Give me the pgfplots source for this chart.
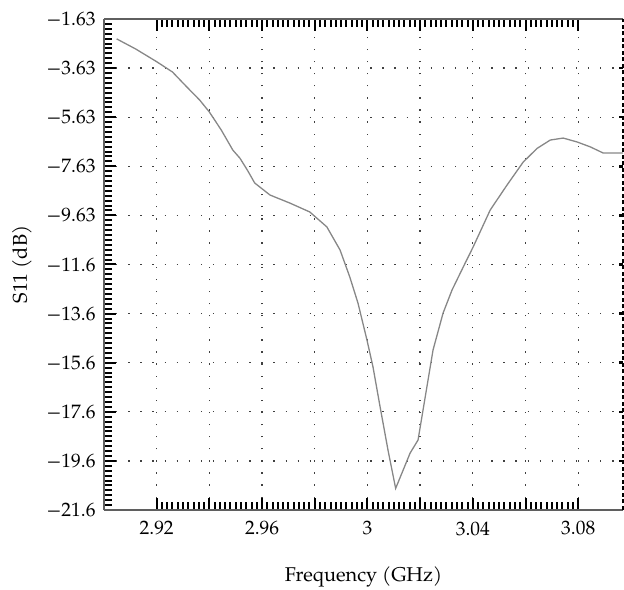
\documentclass[border=0pt]{standalone}
\usepackage{fontspec}
\setmainfont{texgyrepagella-regular.otf}
\usepackage{pgfplots}
\pgfplotsset{compat=1.18}
\definecolor{curvegray}{RGB}{135,135,135}
\definecolor{axgray}{RGB}{95,95,95}
\begin{document}
\begin{tikzpicture}
\path[use as bounding box] (0,0) rectangle (624bp,590bp);
\begin{axis}[
  at={(104bp,80bp)}, anchor=south west,
  scale only axis, width=519bp, height=491bp,
  xmin=2.9, xmax=3.097, ymin=-21.63, ymax=-1.63,
  axis line style={draw=none},
  /pgf/number format/assume math mode=true,
  xtick={2.92,2.96,3,3.04,3.08},
  xticklabels={2.92,2.96,3,3.04,3.08},
  extra x ticks={2.94,2.98,3.02,3.06},
  extra x tick labels={},
  ytick={-21.63,-19.63,-17.63,-15.63,-13.63,-11.63,-9.63,-7.63,-5.63,-3.63,-1.63},
  yticklabels={−21.6,−19.6,−17.6,−15.6,−13.6,−11.6,−9.63,−7.63,−5.63,−3.63,−1.63},
  minor x tick num=19,
  minor y tick num=9,
  ytick pos=left,
  xtick pos=both,
  tick align=inside,
  major tick length=12bp, minor tick length=8bp,
  every tick/.style={black, line width=2bp},
  grid=major,
  major grid style={black!75, line width=1.3bp, dash pattern=on 1.3bp off 10.8bp},
  tick label style={font=\fontsize{19.5}{22}\selectfont},
  xticklabel style={yshift=-8bp},
  yticklabel style={xshift=-5bp},
  xlabel={Frequency (GHz)},
  ylabel={S11 (dB)},
  label style={font=\fontsize{20}{23}\selectfont},
  xlabel style={at={(axis description cs:0.5,-0.1365)}, anchor=center},
  ylabel style={at={(axis description cs:-0.158,0.5)}, anchor=center},
  clip=false,
]
\addplot[curvegray, line width=1.3bp] coordinates {
(2.9048,-2.44) (2.912,-2.85) (2.920,-3.37) (2.926,-3.79) (2.931,-4.35)
(2.9363,-4.93) (2.940,-5.42) (2.9445,-6.15) (2.9489,-6.97) (2.9516,-7.30)
(2.9545,-7.80) (2.9572,-8.31) (2.963,-8.80) (2.9706,-9.13) (2.9781,-9.49)
(2.9846,-10.10) (2.9896,-11.04) (2.9933,-12.14) (2.9964,-13.20) (2.9998,-14.70)
(3.0021,-15.80) (3.0048,-17.43) (3.0078,-19.19) (3.0107,-20.75) (3.0162,-19.31)
(3.0192,-18.78) (3.0249,-15.11) (3.0287,-13.61) (3.0321,-12.67) (3.0371,-11.57)
(3.0401,-10.92) (3.0466,-9.41) (3.053,-8.39) (3.0591,-7.46) (3.0644,-6.90)
(3.0694,-6.56) (3.0743,-6.48) (3.0796,-6.64) (3.0846,-6.84) (3.0895,-7.09)
(3.097,-7.09)
};
\draw[axgray, line width=1.5bp] (rel axis cs:0,0) -- (rel axis cs:1,0);
\draw[axgray, line width=1.5bp] (rel axis cs:0,1) -- (rel axis cs:1,1);
\draw[axgray, line width=1.5bp] (rel axis cs:0,0) -- (rel axis cs:0,1);
\draw[black, line width=1.3bp, dash pattern=on 4bp off 2.5bp] (rel axis cs:1,0) -- (rel axis cs:1,1);
\pgfplotsinvokeforeach{-19.63,-17.63,-15.63,-13.63,-11.63,-9.63,-7.63,-5.63,-3.63}{
  \draw[black, line width=2.5bp] (axis cs:3.097,#1) -- ([xshift=-4bp]axis cs:3.097,#1);
}
\end{axis}
\end{tikzpicture}
\end{document}
